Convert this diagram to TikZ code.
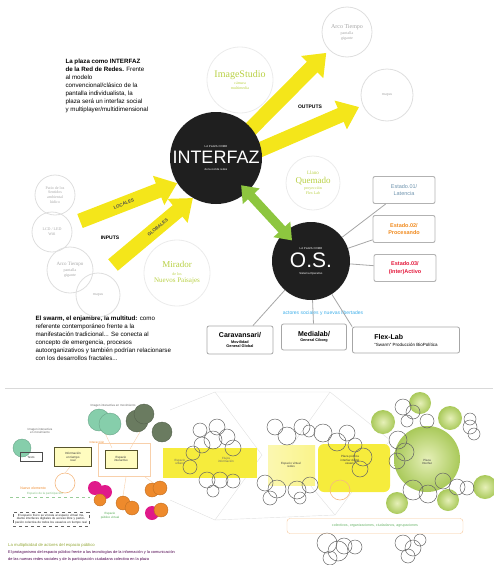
\documentclass[tikz,border=0pt]{standalone}
\usepackage{fontspec}
\setmainfont{Liberation Sans}
\newfontfamily\circfont{Liberation Serif}
\usetikzlibrary{arrows.meta,backgrounds}
\definecolor{arrowyellow}{HTML}{F4E61A}
\definecolor{arrowgreen}{HTML}{8DC63F}
\definecolor{olivetext}{HTML}{B8D043}
\definecolor{stateblue}{HTML}{6E93AD}
\definecolor{stateorange}{HTML}{F08A1E}
\definecolor{statered}{HTML}{E3173A}
\definecolor{actorblue}{HTML}{3DAEE9}
\definecolor{mint}{HTML}{86CEAB}
\definecolor{moss}{HTML}{6A7B60}
\definecolor{magentadot}{HTML}{E0198A}
\definecolor{orangedot}{HTML}{EE8A2C}
\definecolor{limelight}{HTML}{E6F0B8}
\definecolor{limedark}{HTML}{A9C95A}
\definecolor{bandyellow}{HTML}{F6EC3C}
\begin{document}
\begin{tikzpicture}[x=1pt,y=-1pt,
    yarrow/.style={arrowyellow,line width=15pt,-{Triangle[width=30pt,length=20pt]}},
    garrow/.style={arrowgreen,line width=9pt,{Triangle[width=22pt,length=15pt]}-{Triangle[width=22pt,length=15pt]}},
    bigdot/.style={circle,fill=black!88,inner sep=0pt,text=white,align=center,font=\fontsize{2.8}{4}\selectfont},
    greencirc/.style={circle,draw=black!8,line width=.8pt,inner sep=0pt,align=center,text=olivetext,font=\circfont\fontsize{4}{5}\selectfont,minimum size=#1},
    graycirc/.style={circle,draw=black!13,line width=.8pt,inner sep=0pt,align=center,text=black!35,font=\circfont\fontsize{4}{4.8}\selectfont,minimum size=#1},
    statebox/.style={draw=black!30,line width=.9pt,rounded corners=2pt,minimum width=62pt,minimum height=27pt,align=center,font=\bfseries\fontsize{5.5}{7.5}\selectfont},
    actorbox/.style={draw=black!35,line width=.8pt,rounded corners=2pt,minimum height=28pt,align=center,font=\bfseries\fontsize{3.8}{4.6}\selectfont},
    link/.style={black!35,line width=.8pt},
    tinytxt/.style={font=\fontsize{3}{3.6}\selectfont,text=black!60,align=center},
    sketch/.style={black!60,line width=.5pt}]
\useasboundingbox (0,0) rectangle (493,565);

% upper diagram
\node[anchor=north west,align=left,font=\fontsize{6.2}{8.1}\selectfont] (plazatxt) at (62,55)
  {\textbf{La plaza como INTERFAZ}\\\textbf{de la Red de Redes.} Frente\\al modelo\\convencional/clásico de la\\pantalla individualista, la\\plaza será un interfaz social\\y multiplayer/multidimensional};
\node[anchor=north west,align=left,font=\fontsize{6.2}{8}\selectfont] (swarmtxt) at (32,312)
  {\textbf{El swarm, el enjambre, la multitud:} como\\referente contemporáneo frente a la\\manifestación tradicional... Se conecta al\\concepto de emergencia, procesos\\autoorganizativos y también podrían relacionarse\\con los desarrollos fractales...};

\node[bigdot,minimum size=92pt] (interfaz) at (216,158)
  {LA PLAZA COMO\\[2.5pt]{\fontsize{18}{18}\selectfont INTERFAZ}\\[3pt]de la red de redes};
\node[bigdot,minimum size=78pt] (os) at (311,261)
  {LA PLAZA COMO\\[2pt]{\fontsize{21}{21}\selectfont O.S.}\\[3pt]Sistema Operativo};

\node[greencirc=66pt] (imagestudio) at (240,80)
  {{\fontsize{10}{10}\selectfont ImageStudio}\\[2pt]cámara\\multimedia};
\node[greencirc=54pt] (llano) at (313,183)
  {{\fontsize{5}{5}\selectfont Llano}\\[1pt]{\fontsize{9}{9}\selectfont Quemado}\\[1.5pt]proyección\\Flex Lab};
\node[greencirc=66pt] (mirador) at (177,273)
  {{\fontsize{9}{9}\selectfont Mirador}\\[3pt]de los\\[2pt]{\fontsize{7}{7}\selectfont Nuevos Paisajes}};

\node[graycirc=50pt] (arcoR) at (347,32) {{\fontsize{6}{6}\selectfont Arco Tiempo}\\[1.5pt]pantalla\\gigante};
\node[graycirc=52pt] (mapasR) at (387,95) {mapas};
\node[graycirc=40pt] (patio) at (55,195) {Patio de los\\Sentidos\\ambiental\\lúdico};
\node[graycirc=40pt] (lcd) at (52,232) {LCD / LED\\Wifi};
\node[graycirc=46pt] (arcoL) at (70,270) {{\fontsize{5}{5}\selectfont Arco Tiempo}\\[1.5pt]pantalla\\gigante};
\node[graycirc=44pt] (mapasL) at (98,295) {mapas};

% flows
\coordinate (locin) at (80,221);
\coordinate (globin) at (113,265);
\draw[yarrow] (locin) -- node[pos=.45,sloped,font=\bfseries\fontsize{4.5}{5}\selectfont,text=black!70,inner sep=1pt]{LOCALES} (interfaz.-147);
\draw[yarrow] (globin) -- node[pos=.56,sloped,font=\bfseries\fontsize{4.5}{5}\selectfont,text=black!70,inner sep=0pt]{GLOBALES} (interfaz.-120);
\begin{scope}[on background layer]
  \draw[yarrow,shorten <=-8pt,shorten >=4pt] (interfaz.40) -- (arcoR);
  \draw[yarrow,shorten <=-8pt,shorten >=4pt] (interfaz.11) -- (mapasR);
\end{scope}
\node[font=\bfseries\fontsize{5}{6}\selectfont] (inputs) at (110,238) {INPUTS};
\node[font=\bfseries\fontsize{5}{6}\selectfont] (outputs) at (310,107) {OUTPUTS};
\draw[garrow,shorten <=37pt,shorten >=28pt] (interfaz.center) -- (os.center);

% estados
\node[statebox,text=stateblue,font=\fontsize{5.5}{7.5}\selectfont] (est1) at (404,190) {Estado.01/\\Latencia};
\node[statebox,text=stateorange] (est2) at (404,229) {Estado.02/\\Procesando};
\node[statebox,text=statered] (est3) at (405,268) {Estado.03/\\(Inter)Activo};
\draw[link] (os) -- (est1);
\draw[link] (os) -- (est2);
\draw[link] (os) -- (est3);

\node[text=actorblue,font=\fontsize{5}{6}\selectfont] (actores) at (323,313) {actores sociales y nuevas libertades};
\node[actorbox,minimum width=66pt] (caravan) at (240,340)
  {{\fontsize{7}{7}\selectfont Caravansari/}\\[1pt]Movilidad\\General Global};
\node[actorbox,minimum width=65pt,minimum height=26pt] (medialab) at (314,337)
  {{\fontsize{7}{7}\selectfont Medialab/}\\[1pt]General Ciborg};
\node[actorbox,minimum width=107pt,align=left,minimum height=26pt,font=\fontsize{4.5}{6}\selectfont] (flexlab) at (406,340)
  {{\bfseries\fontsize{7}{7}\selectfont Flex-Lab}\\[1pt]``Swarm'' Producción BioPolítica};
\draw[link] (os) -- (caravan);
\draw[link] (os) -- (medialab);
\draw[link] (os) -- (flexlab.north west);

% lower sketch
\draw[black!15] (5,388) -- (493,388);
\draw[black!12] (170,410) -- (215,392) -- (330,392) -- (390,440) -- (335,515) -- (215,520) -- (170,500);
\draw[black!12] (215,392) -- (262,455) -- (215,520);
\draw[black!12] (330,392) -- (285,455) -- (335,515);
\fill[bandyellow] (163,448) rectangle (257,478);
\shade[left color=bandyellow!40,right color=bandyellow!60] (268,445) rectangle (315,485);
\fill[bandyellow,rounded corners=6pt] (318,444) rectangle (390,492);
\foreach \x/\y/\r in {427/459/33,383/422/12,420/403/11,450/418/12,485/487/12,397/503/11,448/500/11}
  \shade[inner color=limelight,outer color=limedark] (\x,\y) circle (\r);
\foreach \x/\y/\r in {202/445/8,213/440/9,227/437/8,233/448/8,193/453/7,190/467/7,207/480/8,220/480/8,233/481/7,213/491/6,200/430/7,217/427/8,
    275/427/8,287/436/9,302/427/8,309/431/6,323/433/9,337/442/9,347/433/8,355/445/7,
    265/483/8,277/489/9,297/490/9,310/485/8,270/498/7,300/498/6,363/457/9,360/469/8,
    403/407/8,413/412/7,407/421/6,398/440/9,405/452/9,397/461/8,413/490/10,428/494/9,443/481/8,457/487/8,467/488/7,470/427/7,470/419/6,474/434/6,427/421/7,
    327/543/10,338/551/10,344/546/8,355/547/7,330/558/7,403/543/8,413/548/8,408/556/7,420/540/6}
  \draw[sketch] (\x,\y) circle (\r);
\draw[orangedot!60,line width=.6pt] (340,490) circle (10);
\draw[orangedot!60,line width=.6pt] (65,483) circle (10);

\node[tinytxt] (bandtxt1) at (180,462) {Espacio\\urbano};
\node[tinytxt] (bandtxt2) at (226,460) {Flujos\\información};
\node[tinytxt,text=black!75] (bandtxt3) at (291,465) {Espacio virtual\\redes};
\node[tinytxt,text=black!75] (bandtxt4) at (350,460) {Plaza pública\\interfaz digital\\usuario};
\node[tinytxt,text=black!75] (plazadot) at (427,462) {Plaza\\Interfaz};

% left part of the sketch
\draw[orangedot!40] (105,433) -- (112,448);
\draw[orangedot!40] (140,432) -- (130,449);
\draw[orangedot!40] (126,477) -- (123,496);
\draw[orangedot!40] (145,477) -- (155,484);
\draw[orangedot!40] (65,473) -- (70,467);
\foreach \x/\y/\r in {22/448/9,99/420/11,110/424/11}
  \draw[mint!80!black,fill=mint] (\x,\y) circle (\r);
\foreach \x/\y/\r in {137/421/11,144/414/10,162/432/10}
  \draw[moss!80!black,fill=moss] (\x,\y) circle (\r);
\foreach \x/\y/\r in {95/488/7,105/492/7,152/513/7}
  \fill[magentadot] (\x,\y) circle (\r);
\foreach \x/\y/\r in {100/500/6,123/503/7,132/508/7,152/490/7,160/488/7,161/510/7}
  \draw[orangedot!80!black,fill=orangedot] (\x,\y) circle (\r);
\node[tinytxt] (imgtxt) at (40,431) {Imagen interactiva\\en movimiento};
\node[tinytxt] (imgtxt2) at (113,406) {Imagen interactiva en movimiento};
\node[tinytxt,text=orangedot] (intertxt) at (97,442) {Interacción};
\node[draw=black!70,line width=.8pt,minimum width=22pt,minimum height=9pt,inner sep=0pt,tinytxt,text=black!80] (textbox) at (31,457) {Texto};
\node[draw=black!50!olive,fill=yellow!25,line width=.8pt,minimum width=37pt,minimum height=19pt,inner sep=1pt,tinytxt,text=black!80] (infobox) at (73,457) {Información\\en tiempo\\real};
\draw[orangedot!40] (98,443) rectangle (150,476);
\node[draw=black!50!olive,fill=yellow!25,line width=.8pt,minimum width=32pt,minimum height=18pt,inner sep=1pt,tinytxt,text=black!80] (interbox) at (121,459) {Espacio\\interactivo};
\node[tinytxt,text=orangedot,font=\fontsize{3.5}{4}\selectfont] (nuevotxt) at (33,488) {Nuevo elemento};
\draw[green!50!black!40,dashed] (10,497) -- (90,497);
\node[tinytxt,text=green!50!black!50] (partictxt) at (45,494) {Espacio de la participación};
\node[tinytxt,text=green!50!black!70] (virtualtxt) at (110,516) {Espacio\\público virtual};
\node[draw=black!60,dashed,tinytxt,text=black!85,text width=72pt,inner sep=2pt] (notebox) at (51,519)
  {El espacio físico se vincula al espacio virtual mediante interfaces digitales de acceso libre y participación colectiva de todos los usuarios en tiempo real};
\node[draw=orangedot!50,rounded corners=3pt,minimum width=176pt,minimum height=15pt,tinytxt,text=green!50!black!60,font=\fontsize{3.6}{4}\selectfont] (colectivos) at (375,526) {colectivos, organizaciones, ciudadanos, agrupaciones};

\node[anchor=west,text=olivetext!80!black,font=\fontsize{4.2}{5}\selectfont,inner sep=0pt] (multitxt) at (8,545) {La multiplicidad de actores del espacio público};
\node[anchor=north west,text=violet!60!black,font=\fontsize{3.9}{7}\selectfont,inner sep=0pt,align=left] (protatxt) at (8,550)
  {El protagonismo del espacio público frente a las tecnologías de la información y la comunicación\\de las nuevas redes sociales y de la participación ciudadana colectiva en la plaza};
\end{tikzpicture}
\end{document}
